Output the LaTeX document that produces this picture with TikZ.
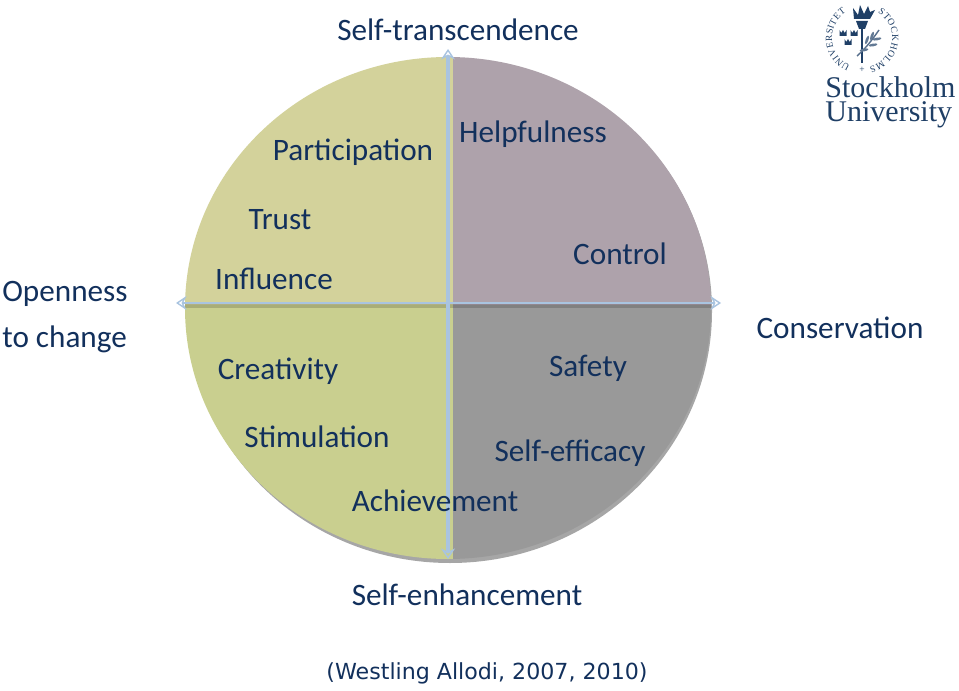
\documentclass[tikz,border=0pt]{standalone}
\usepackage{fontspec}
\setmainfont{Carlito}
\newfontfamily\citefont{DejaVu Sans}
\newfontfamily\logofont{Liberation Serif}
\usetikzlibrary{arrows.meta, decorations.text}

\definecolor{navytext}{HTML}{12305C}
\definecolor{logoblue}{HTML}{1F3F66}
\definecolor{axisblue}{HTML}{A9C4E0}
\definecolor{openself}{HTML}{D3D29B}
\definecolor{selfcons}{HTML}{AEA2AB}
\definecolor{openenh}{HTML}{C9CF8F}
\definecolor{consenh}{HTML}{999999}

\begin{document}
\begin{tikzpicture}[
    x=0.02cm,
    y=0.02cm,
    every node/.style={text=navytext, inner sep=0pt},
    value/.style={font=\fontsize{17.75}{20}\selectfont},
    pole/.style={font=\fontsize{17.75}{20}\selectfont},
    logotext/.style={text=logoblue, anchor=base west, font=\logofont\fontsize{17.1}{20}\selectfont},
    sealtext/.style={decorate, decoration={text along path, text align=fit to path, text={|\logofont\fontsize{5.4}{7}\selectfont\color{logoblue}|#1}}},
    axis/.style={draw=axisblue, {Stealth[length=6pt,width=8pt,open,line width=0.8pt]}-{Stealth[length=6pt,width=8pt,open,line width=0.8pt]}}
]
\useasboundingbox (0,0) rectangle (959,690);

% ------------------------
% Circle
% ------------------------
\fill[gray!70] (450,379) ellipse [x radius=262, y radius=252];
\begin{scope}
\clip (448,382) ellipse [x radius=263, y radius=251];
\fill[openself] (150,385) rectangle (453,660);
\fill[selfcons] (453,385) rectangle (750,660);
\fill[openenh] (150,385) rectangle (453,100);
\fill[consenh] (453,385) rectangle (750,100);
\fill[black, opacity=0.16] (150,382) rectangle (750,388);
\end{scope}

% ------------------------
% Axes
% ------------------------
\coordinate (north) at (448,641);
\coordinate (south) at (448,131);
\coordinate (west) at (176,387);
\coordinate (east) at (721,387);

\draw[axis, line width=2.2pt] (south) -- (north);
\draw[axis, line width=1.7pt] (west) -- (east);

% ------------------------
% Poles
% ------------------------
\node (transcend) [pole] at (458,660) {Self-transcendence};
\node (enhance) [pole] at (467,95) {Self-enhancement};
\node (conserve) [pole] at (840,362) {Conservation};
\node (open1) [pole, anchor=west] at (2,396) {Openness};
\node (open2) [pole, anchor=west] at (2,351) {to change};

% ------------------------
% Values
% ------------------------
\node (particip) [value] at (353,538) {Participation};
\node (helpful) [value] at (533,556) {Helpfulness};
\node (trust) [value] at (280,470) {Trust};
\node (influence) [value] at (274,411) {Influence};
\node (control) [value] at (620,436) {Control};
\node (creative) [value] at (278,319) {Creativity};
\node (safety) [value] at (588,322) {Safety};
\node (stimul) [value] at (317,253) {Stimulation};
\node (efficacy) [value] at (570,237) {Self-efficacy};
\node (achieve) [value] at (435,189) {Achievement};

\node (source) [font=\citefont\fontsize{12.6}{16}\selectfont] at (487,17) {(Westling Allodi, 2007, 2010)};

% ------------------------
% Logo
% ------------------------
\node (stockholm) [logotext] at (825,592) {Stockholm};
\node (university) [logotext] at (825,568) {University};

\coordinate (seal) at (862,652);
\path[sealtext=UNIVERSITET] (seal) ++(-113:30) arc[start angle=-113, end angle=-238, radius=30];
\path[sealtext=STOCKHOLMS] (seal) ++(58:30) arc[start angle=58, end angle=-76, radius=30];
\node (plus) [text=logoblue, font=\logofont\fontsize{5.4}{7}\selectfont] at (862,620) {+};

% torch
\draw[logoblue, line width=1.2pt] (862,627) -- (862,664);
\fill[logoblue] (856,669) -- (868,669) -- (865,661) -- (859,661) -- cycle;
\fill[logoblue] (854,671) -- (853,682) -- (858,675) -- (860,685) -- (864,676) -- (868,684) -- (870,678) -- (875,680) -- (870,671) -- cycle;
% crowns
\foreach \cx/\cy in {843/657, 854/657, 848/648} {
  \fill[logoblue] (\cx-3.5,\cy-3) -- (\cx+3.5,\cy-3) -- (\cx+3.5,\cy+3) -- (\cx+1.7,\cy) -- (\cx,\cy+3) -- (\cx-1.7,\cy) -- (\cx-3.5,\cy+3) -- cycle;
}
% branch
\draw[logoblue!75, line width=0.8pt] (857,634) .. controls (866,642) and (872,650) .. (879,660);
\foreach \lx/\ly/\la in {867/650/70, 872/654/70, 873/645/10, 877/651/10, 864/640/10} {
  \fill[logoblue!70, rotate around={\la:(\lx,\ly)}] (\lx,\ly) ellipse [x radius=4.5, y radius=1.4];
}

\end{tikzpicture}
\end{document}
